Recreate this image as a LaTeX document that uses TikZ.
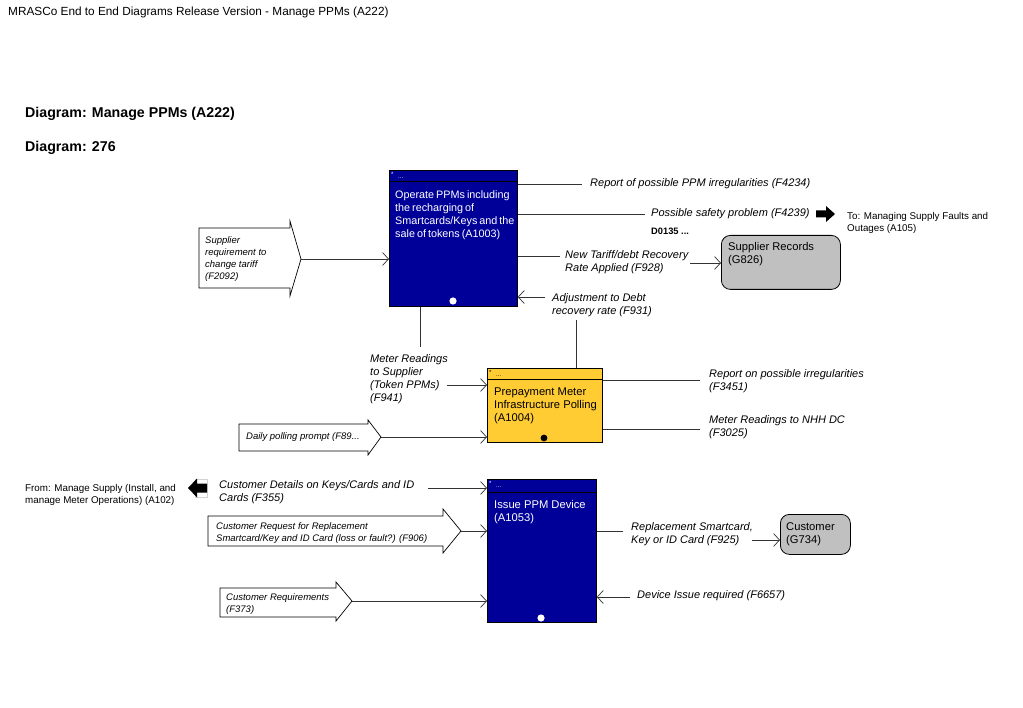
\documentclass[tikz,border=0pt]{standalone}
\usepackage{fontspec}
\setmainfont{Liberation Sans}
\usetikzlibrary{arrows.meta,calc}
\definecolor{navy}{RGB}{0,0,153}
\definecolor{ppmyellow}{RGB}{255,204,51}
\definecolor{storegrey}{RGB}{192,192,192}
\newcommand{\tightspaces}{\spaceskip=2pt plus 1pt minus 0.5pt\relax}
\begin{document}
\begin{tikzpicture}[x=1pt,y=-1pt,
  flow/.style={draw=black!80, line width=0.7pt},
  arr/.style={flow, -{Straight Barb[length=6pt,width=13pt,line width=0.7pt]}},
  lab/.style={font=\fontsize{11}{13}\selectfont\itshape, anchor=west, align=left, inner sep=0pt},
  biglab/.style={font=\fontsize{11}{13}\selectfont\itshape, anchor=west, align=left, inner sep=0pt},
  smalllab/.style={font=\fontsize{9.5}{12}\selectfont\itshape, anchor=west, align=left, inner sep=0pt},
  plain/.style={font=\fontsize{9.8}{12}\selectfont, anchor=west, align=left, inner sep=0pt},
  boxtext/.style={font=\fontsize{11.2}{13}\selectfont, anchor=west, align=left, inner sep=0pt},
  proc/.style={draw=black, line width=0.8pt, anchor=north west, inner sep=0pt},
  store/.style={draw=black, line width=0.8pt, fill=storegrey, rounded corners=9pt, anchor=north west, inner sep=0pt},
  pent/.style={draw=black, line width=0.7pt, fill=white},
  star/.style={font=\fontsize{6}{6}\selectfont, anchor=west, inner sep=0pt}
]
\useasboundingbox (0,0) rectangle (1023,708);

% titles
\node[anchor=west, inner sep=0pt, font=\fontsize{11.8}{13}\selectfont] (hdr) at (8,12) {MRASCo End to End Diagrams Release Version - Manage PPMs (A222)};
\node[anchor=west, inner sep=0pt, font=\fontsize{14.2}{16}\selectfont\bfseries] (t1) at (25,114) {Diagram: Manage PPMs (A222)};
\node[anchor=west, inner sep=0pt, font=\fontsize{14.2}{16}\selectfont\bfseries] (t2) at (25,148) {Diagram: 276};

% ---------- A1003 ----------
\node[proc, fill=navy, minimum width=128pt, minimum height=136pt] (a1003) at (389,170) {};
\draw[black, line width=1pt] (389,182) -- (517,182);
\node[star, text=white] (a1003s) at (391,174) {*};
\node[star, text=white] (a1003d) at (398,178) {...};
\node[boxtext, font={\fontsize{10.8}{13}\selectfont\tightspaces}, text=white] (a1003t) at (395,215.5) {Operate PPMs including\\the recharging of\\Smartcards/Keys and the\\sale of tokens (A1003)};
\fill[white] (453,301) circle (3.6pt);

% F4234
\coordinate (f4234e) at (582,184);
\draw[flow] (a1003.east |- f4234e) -- (f4234e);
\node[lab] (f4234) at (590,184) {Report of possible PPM irregularities (F4234)};

% F4239
\coordinate (f4239e) at (645,214);
\draw[flow] (a1003.east |- f4239e) -- (f4239e);
\node[lab] (f4239) at (651,214) {Possible safety problem (F4239)};
\node[anchor=west, inner sep=0pt, font=\fontsize{9.3}{11}\selectfont\bfseries] (d0135) at (651,231) {D0135 ...};
\fill[black] (816,210.5) -- (826,210.5) -- (826,206) -- (835,214) -- (826,222) -- (826,217.5) -- (816,217.5) -- cycle;
\node[plain] (toa105) at (847,223) {To: Managing Supply Faults and\\Outages (A105)};

% F928
\coordinate (f928e) at (560,256);
\draw[flow] (a1003.east |- f928e) -- (f928e);
\node[lab] (f928) at (565,262.5) {New Tariff/debt Recovery\\Rate Applied (F928)};
\node[store, minimum width=119pt, minimum height=54pt] (g826) at (721,235) {};
\node[boxtext] (g826t) at (728,254.5) {Supplier Records\\(G826)};
\coordinate (f928s) at (690,263);
\draw[arr] (f928s) -- (g826.west |- f928s);

% F931
\coordinate (f931s) at (545,297);
\draw[arr] (f931s) -- (a1003.east |- f931s);
\node[lab] (f931) at (552,305.5) {Adjustment to Debt\\recovery rate (F931)};

% F2092 pentagon
\draw[pent] (199,228) -- (290,228) -- (290,221) -- (301,259) -- (290,296) -- (290,288) -- (199,288) -- cycle;
\coordinate (f2092tip) at (301,259);
\node[smalllab] (f2092) at (205,259) {Supplier\\requirement to\\change tariff\\(F2092)};
\draw[arr] (f2092tip) -- (a1003.west |- f2092tip);

% ---------- A1004 ----------
\node[proc, fill=ppmyellow, minimum width=115pt, minimum height=74pt] (a1004) at (487,368) {};
\draw[black, line width=1pt] (487,380) -- (602,380);
\node[star] (a1004s) at (489,372) {*};
\node[star] (a1004d) at (496,376) {...};
\node[boxtext] (a1004t) at (494,406) {Prepayment Meter\\Infrastructure Polling\\(A1004)};
\fill[black] (544,438) circle (3.4pt);

% vertical links
\coordinate (f941top) at (420,347);
\draw[flow] (a1003.south -| f941top) -- (f941top);
\coordinate (f931down) at (576,320);
\draw[flow] (f931down) -- (a1004.north -| f931down);

% F941
\node[lab] (f941) at (370,379.5) {Meter Readings\\to Supplier\\(Token PPMs)\\(F941)};
\coordinate (f941s) at (447,385);
\draw[arr] (f941s) -- (a1004.west |- f941s);

% F3451, F3025
\coordinate (f3451e) at (700,380);
\draw[flow] (a1004.east |- f3451e) -- (f3451e);
\node[lab] (f3451) at (709,381.5) {Report on possible irregularities\\(F3451)};
\coordinate (f3025e) at (700,429);
\draw[flow] (a1004.east |- f3025e) -- (f3025e);
\node[lab] (f3025) at (709,427.5) {Meter Readings to NHH DC\\(F3025)};

% Daily polling pentagon
\draw[pent] (239,424) -- (368,424) -- (368,420) -- (381,437) -- (368,455) -- (368,451) -- (239,451) -- cycle;
\coordinate (f89tip) at (381,437);
\node[smalllab] (f89) at (246,437) {Daily polling prompt (F89...};
\draw[arr] (f89tip) -- (a1004.west |- f89tip);

% ---------- A1053 ----------
\node[proc, fill=navy, minimum width=109pt, minimum height=143pt] (a1053) at (487,479) {};
\draw[black, line width=1pt] (487,492) -- (596,492);
\node[star, text=white] (a1053s) at (489,483) {*};
\node[star, text=white] (a1053d) at (496,487) {...};
\node[boxtext, text=white] (a1053t) at (494,512.5) {Issue PPM Device\\(A1053)};
\fill[white] (541,618) circle (3.6pt);

% From A102
\node[plain] (froma102) at (25,494.5) {From: Manage Supply (Install, and\\manage Meter Operations) (A102)};
\draw[gray!35, line width=0.6pt] (195,479) rectangle (207,497);
\fill[black] (207,483.5) -- (197,483.5) -- (197,478.5) -- (188,488) -- (197,497.5) -- (197,492.5) -- (207,492.5) -- cycle;

% F355
\node[biglab] (f355) at (219,492.5) {Customer Details on Keys/Cards and ID\\Cards (F355)};
\coordinate (f355s) at (428,488);
\draw[arr] (f355s) -- (a1053.west |- f355s);

% F906 pentagon
\draw[pent] (208,516) -- (443,516) -- (443,509) -- (461,531) -- (443,553) -- (443,546) -- (208,546) -- cycle;
\coordinate (f906tip) at (461,531);
\node[smalllab] (f906) at (216,533.5) {Customer Request for Replacement\\Smartcard/Key and ID Card (loss or fault?) (F906)};
\draw[arr] (f906tip) -- (a1053.west |- f906tip);

% F373 pentagon
\draw[pent] (220,588) -- (336,588) -- (336,582) -- (352,601) -- (336,621) -- (336,617) -- (220,617) -- cycle;
\coordinate (f373tip) at (352,601);
\node[smalllab] (f373) at (226,604) {Customer Requirements\\(F373)};
\draw[arr] (f373tip) -- (a1053.west |- f373tip);

% F925
\coordinate (f925e) at (623,531);
\draw[flow] (a1053.east |- f925e) -- (f925e);
\node[lab] (f925) at (631,534) {Replacement Smartcard,\\Key or ID Card (F925)};
\node[store, minimum width=70pt, minimum height=40pt] (g734) at (780,514) {};
\node[boxtext] (g734t) at (786,534.5) {Customer\\(G734)};
\coordinate (f925s) at (752,540);
\draw[arr] (f925s) -- (g734.west |- f925s);

% F6657
\coordinate (f6657s) at (630,597);
\draw[arr] (f6657s) -- (a1053.east |- f6657s);
\node[lab] (f6657) at (637,596) {Device Issue required (F6657)};

\end{tikzpicture}
\end{document}
